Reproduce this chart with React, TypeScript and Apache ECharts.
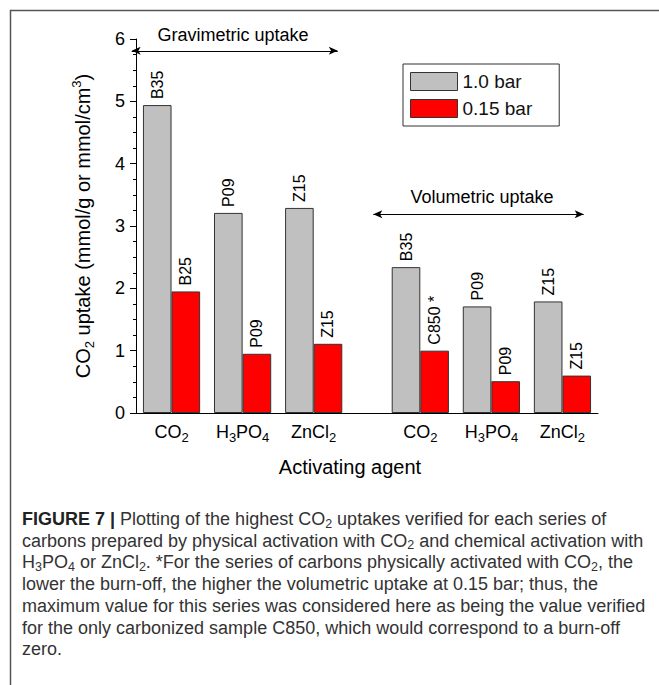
import React, { useEffect, useRef } from "react";
import * as echarts from "echarts";

// ---- data ----
const agentLabels = ["CO2", "H3PO4", "ZnCl2", "CO2", "H3PO4", "ZnCl2"];
const agentPositions = [0.5, 1.5, 2.5, 4, 5, 6];
const seriesNames = ["1.0 bar", "0.15 bar"];
const uptake10 = [4.94, 3.21, 3.29, 2.34, 1.71, 1.79];
const uptake015 = [1.95, 0.95, 1.11, 1.0, 0.51, 0.6];
const sample10 = ["B35", "P09", "Z15", "B35", "P09", "Z15"];
const sample015 = ["B25", "P09", "Z15", "C850 *", "P09", "Z15"];
const yTicks = [0, 1, 2, 3, 4, 5, 6];

const captionLines = [
  "{b|FIGURE 7 |}{n| Plotting of the highest CO}{s|2}{n| uptakes verified for each series of}",
  "{n|carbons prepared by physical activation with CO}{s|2}{n| and chemical activation with}",
  "{n|H}{s|3}{n|PO}{s|4}{n| or ZnCl}{s|2}{n|. *For the series of carbons physically activated with CO}{s|2}{n|, the}",
  "{n|lower the burn-off, the higher the volumetric uptake at 0.15 bar; thus, the}",
  "{n|maximum value for this series was considered here as being the value verified}",
  "{n|for the only carbonized sample C850, which would correspond to a burn-off}",
  "{n|zero.}",
];

const FONT = "'Liberation Sans', Arial, sans-serif";

function richSub(str: string): string {
  return str
    .split(/(\d+)/)
    .filter((p) => p.length > 0)
    .map((p) => (/^\d+$/.test(p) ? `{s|${p}}` : `{n|${p}}`))
    .join("");
}

export default function App() {
  const ref = useRef<HTMLDivElement>(null);
  useEffect(() => {
    if (!ref.current) return;
    const chart = echarts.init(ref.current, undefined, { renderer: "svg" });
    const labelMap: Record<string, string> = {};
    agentPositions.forEach((p, i) => (labelMap[String(p)] = richSub(agentLabels[i])));

    const captionGraphics = captionLines.map((line, i) => ({
      type: "text",
      left: 22,
      top: 510 + i * 21.7,
      silent: true,
      style: {
        text: line,
        fill: "#333",
        font: `18px ${FONT}`,
        rich: {
          n: { fontSize: 18, fontFamily: FONT, fill: "#333", lineHeight: 22 },
          b: { fontSize: 18, fontFamily: FONT, fontWeight: "bold", fill: "#222", lineHeight: 22 },
          s: { fontSize: 12.5, fontFamily: FONT, fill: "#333", lineHeight: 10, verticalAlign: "bottom" },
        },
      },
    }));

    const option: any = {
      animation: false,
      textStyle: { fontFamily: FONT },
      grid: { left: 136, top: 39, width: 462, height: 374, containLabel: false },
      legend: {
        data: seriesNames,
        orient: "vertical",
        left: 403,
        top: 64,
        padding: [8, 27, 8, 7],
        itemGap: 8,
        itemWidth: 47,
        itemHeight: 18,
        borderColor: "#333",
        borderWidth: 1,
        icon: "rect",
        itemStyle: { borderColor: "#333", borderWidth: 1 },
        textStyle: { fontSize: 19, color: "#111", fontFamily: FONT },
      },
      xAxis: {
        type: "value",
        min: 0,
        max: 6.5,
        interval: 0.5,
        splitLine: { show: false },
        axisTick: { show: false },
        axisLine: { show: true, onZero: false, lineStyle: { color: "#000", width: 1 } },
        axisLabel: {
          margin: 7,
          showMinLabel: true,
          showMaxLabel: true,
          formatter: (v: number) => labelMap[String(v)] || "",
          rich: {
            n: { fontSize: 18, color: "#000", fontFamily: FONT, lineHeight: 24 },
            s: { fontSize: 13, color: "#000", fontFamily: FONT, lineHeight: 11, verticalAlign: "bottom" },
          },
        },
        name: "Activating agent",
        nameLocation: "middle",
        nameGap: 44,
        nameTextStyle: { fontSize: 20, color: "#000", fontFamily: FONT, padding: [0, 34, 0, 0] },
      },
      yAxis: {
        type: "value",
        min: yTicks[0],
        max: yTicks[yTicks.length - 1],
        interval: 1,
        splitLine: { show: false },
        axisLine: { show: true, lineStyle: { color: "#000", width: 1 } },
        axisTick: { show: true, inside: false, length: 6, lineStyle: { color: "#000" } },
        minorTick: { show: true, splitNumber: 4, length: 3, lineStyle: { color: "#000" } },
        axisLabel: { fontSize: 18, color: "#000", margin: 11, fontFamily: FONT },
        name: "{n|CO}{s|2}{n| uptake (mmol/g or mmol/cm}{p|3}{n|)}",
        nameLocation: "middle",
        nameRotate: 90,
        nameGap: 40,
        nameTextStyle: {
          rich: {
            n: { fontSize: 20, color: "#000", fontFamily: FONT, lineHeight: 26 },
            s: { fontSize: 13, color: "#000", fontFamily: FONT, lineHeight: 12, verticalAlign: "bottom" },
            p: { fontSize: 13, color: "#000", fontFamily: FONT, lineHeight: 12, verticalAlign: "top" },
          },
        },
      },
      series: [
        {
          name: seriesNames[0],
          type: "bar",
          barWidth: 28.6,
          barGap: "0%",
          data: agentPositions.map((p, i) => [p, uptake10[i]]),
          itemStyle: { color: "#c0c0c0", borderColor: "#333", borderWidth: 1 },
          label: {
            show: true,
            position: "top",
            rotate: 90,
            align: "left",
            verticalAlign: "middle",
            distance: 6,
            fontSize: 16,
            color: "#000",
            fontFamily: FONT,
            formatter: (p: any) => sample10[p.dataIndex],
          },
          markLine: {
            silent: true,
            symbol: ["arrow", "arrow"],
            symbolSize: [6, 9],
            label: { show: false },
            lineStyle: { color: "#000", width: 1, type: "solid" },
            emphasis: { disabled: true },
            data: [
              [{ coord: [0.14, 5.81] }, { coord: [3.04, 5.81] }],
              [{ coord: [3.54, 3.19] }, { coord: [6.5, 3.19] }],
            ],
          },
        },
        {
          name: seriesNames[1],
          type: "bar",
          barWidth: 28.6,
          barGap: "0%",
          data: agentPositions.map((p, i) => [p, uptake015[i]]),
          itemStyle: { color: "#ff0000", borderColor: "#333", borderWidth: 1 },
          label: {
            show: true,
            position: "top",
            rotate: 90,
            align: "left",
            verticalAlign: "middle",
            distance: 6,
            fontSize: 16,
            color: "#000",
            fontFamily: FONT,
            formatter: (p: any) => sample015[p.dataIndex],
          },
        },
      ],
      graphic: [
        {
          type: "polyline",
          silent: true,
          shape: { points: [[10.5, 685], [10.5, 10.5], [659, 10.5]] },
          style: { stroke: "#555", lineWidth: 1.5, fill: "none" },
        },
        {
          type: "text",
          x: 233,
          y: 35,
          silent: true,
          style: { text: "Gravimetric uptake", font: `18px ${FONT}`, fill: "#000", align: "center", verticalAlign: "middle" },
        },
        {
          type: "text",
          x: 482,
          y: 197,
          silent: true,
          style: { text: "Volumetric uptake", font: `18px ${FONT}`, fill: "#000", align: "center", verticalAlign: "middle" },
        },
        ...captionGraphics,
      ],
    };
    chart.setOption(option);
    return () => chart.dispose();
  }, []);
  return (
    <div
      ref={ref}
      style={{ position: "fixed", left: 0, top: 0, width: 659, height: 685, background: "#fff" }}
    />
  );
}
